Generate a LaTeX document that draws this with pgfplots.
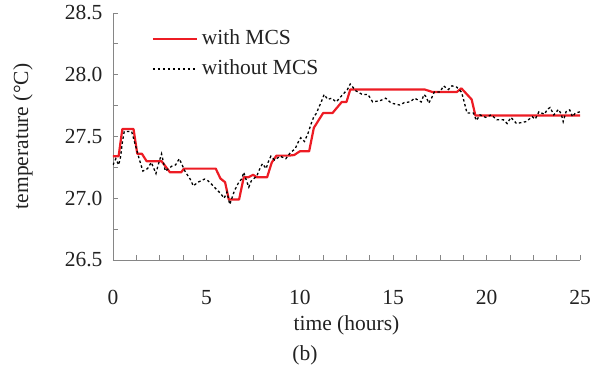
\documentclass[border=0pt]{standalone}
\usepackage{pgfplots}
\pgfplotsset{compat=1.18}
\usepackage{fontspec}
\setmainfont{Liberation Serif}
\usetikzlibrary{calc}
\definecolor{mcsred}{HTML}{ED1C24}
\definecolor{axgray}{HTML}{868686}
\definecolor{txt}{HTML}{222222}
\begin{document}
\begin{tikzpicture}[font=\fontsize{21.5bp}{25bp}\selectfont, text=txt]
\path[use as bounding box] (-113bp,-108bp) rectangle (484bp,260bp);
\begin{axis}[
  at={(0,0)}, anchor=south west,
  scale only axis, width=467bp, height=247bp,
  xmin=0, xmax=25, ymin=26.5, ymax=28.5,
  axis lines=left, axis line style={-, draw=axgray, line width=1pt},
  xtick={0,5,...,25}, minor x tick num=3,
  ytick={26.5,27,...,28.5}, minor y tick num=1,
  tick align=inside, major tick length=5bp, minor tick length=5bp,
  tick style={draw=axgray, line width=0.8pt},
  /pgf/number format/assume math mode=true,
  tick label style={font=\fontsize{21.5bp}{25bp}\selectfont, text=txt},
  yticklabel style={/pgf/number format/fixed, /pgf/number format/fixed zerofill, /pgf/number format/precision=1, xshift=-7bp},
  xticklabel style={yshift=-27bp},
  xlabel={time (hours)},
  ylabel={temperature (°C)},
  every axis x label/.style={at={(axis description cs:0.5,0)}, anchor=center, yshift=-65bp},
  every axis y label/.style={at={(axis description cs:0,0.5)}, xshift=-90bp, rotate=90, anchor=center},
  legend style={draw=none, fill=none, at={(axis description cs:0.076,0.94)}, anchor=north west,
    nodes={inner sep=0pt, text height=14bp, text depth=4bp}, row sep=12bp, font=\fontsize{21.5bp}{25bp}\selectfont, text=txt},
  legend cell align=left,
  legend image code/.code={\draw[#1] (0bp,0bp) -- (44bp,0bp);},
  /tikz/every odd column/.append style={column sep=4bp},
]
\addplot[mcsred, line width=2.2bp, line join=round] coordinates {
(0.0,27.34) (0.3,27.34) (0.5,27.56) (1.1,27.56) (1.3,27.36) (1.55,27.36)
(1.8,27.30) (2.6,27.30) (3.05,27.21) (3.65,27.21) (3.8,27.24) (5.5,27.24)
(5.75,27.16) (6.0,27.13) (6.2,26.99) (6.75,26.99) (7.0,27.17) (7.25,27.17)
(7.5,27.19) (7.7,27.17) (8.25,27.17) (8.5,27.29) (8.75,27.345) (9.4,27.345)
(9.7,27.35) (10.0,27.38) (10.5,27.38) (10.75,27.57) (11.25,27.69) (11.75,27.69)
(12.25,27.78) (12.5,27.78) (12.7,27.88) (16.7,27.88) (17.1,27.86) (18.4,27.86)
(18.65,27.89) (19.2,27.80) (19.4,27.67) (25.0,27.67)
};
\addlegendentry{with MCS}
\addplot[black, line width=1.3bp, dash pattern=on 2.5bp off 2.5bp] coordinates {
(0.0,27.27) (0.15,27.32) (0.3,27.27) (0.4,27.33) (0.5,27.45) (0.6,27.54)
(1.0,27.54) (1.2,27.43) (1.4,27.32) (1.6,27.22) (1.85,27.24) (2.05,27.29)
(2.3,27.20) (2.4,27.26) (2.6,27.36) (2.8,27.22) (3.15,27.26) (3.35,27.27)
(3.55,27.32) (3.7,27.27) (3.85,27.22) (4.15,27.15) (4.3,27.10) (4.55,27.13)
(4.9,27.155) (5.1,27.14) (5.3,27.11) (5.55,27.07) (5.75,27.04) (5.95,27.00)
(6.1,27.05) (6.25,26.95) (6.5,27.06) (6.7,27.12) (6.9,27.16) (7.0,27.21)
(7.15,27.14) (7.27,27.09) (7.4,27.14) (7.7,27.18) (7.8,27.22) (8.0,27.28)
(8.2,27.24) (8.3,27.29) (8.45,27.34) (8.65,27.31) (8.95,27.34) (9.25,27.32)
(9.5,27.37) (9.75,27.40) (9.9,27.45) (10.05,27.49) (10.25,27.46) (10.45,27.53)
(10.6,27.60) (10.75,27.66) (10.9,27.69) (11.0,27.73) (11.15,27.78) (11.3,27.84)
(11.5,27.80) (11.7,27.81) (11.95,27.78) (12.3,27.84) (12.55,27.88) (12.7,27.925)
(13.0,27.87) (13.35,27.84) (13.65,27.84) (13.9,27.78) (14.3,27.79) (14.6,27.81)
(14.9,27.77) (15.35,27.755) (15.6,27.775) (15.9,27.78) (16.15,27.81) (16.5,27.78)
(16.65,27.84) (16.77,27.82) (16.9,27.77) (17.05,27.81) (17.2,27.86) (17.5,27.86)
(17.7,27.91) (17.95,27.88) (18.15,27.91) (18.4,27.90) (18.65,27.86) (18.75,27.81)
(18.85,27.75) (18.95,27.69) (19.1,27.69) (19.3,27.69) (19.45,27.63) (19.65,27.675)
(19.95,27.655) (20.25,27.675) (20.55,27.635) (20.9,27.635) (21.1,27.605) (21.3,27.655)
(21.6,27.605) (22.1,27.62) (22.45,27.66) (22.6,27.64) (22.8,27.70) (23.1,27.68)
(23.25,27.72) (23.4,27.735) (23.6,27.675) (23.85,27.72) (24.0,27.68) (24.1,27.62)
(24.25,27.70) (24.45,27.715) (24.6,27.66) (24.75,27.69) (25.0,27.70)
};
\addlegendentry{without MCS}
\end{axis}
\node at (192bp,-95bp) {(b)};
\end{tikzpicture}
\end{document}
